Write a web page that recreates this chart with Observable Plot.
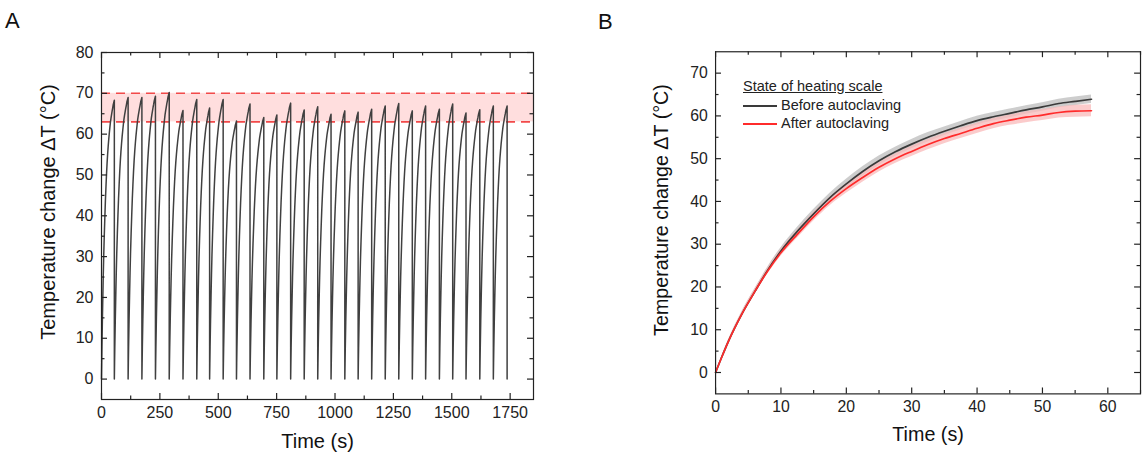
<!DOCTYPE html>
<html><head><meta charset="utf-8">
<script src="https://cdn.jsdelivr.net/npm/d3@7"></script>
<script src="https://cdn.jsdelivr.net/npm/@observablehq/plot@0.6"></script>
<style>
html,body{margin:0;padding:0;background:#fff;overflow:hidden;width:1142px;height:461px;}
#wrap{position:relative;width:1142px;height:461px;font-family:"Liberation Sans",Arial,sans-serif;overflow:hidden;}
.panel{position:absolute;top:0;}
.plbl{position:absolute;font-size:22px;color:#111;line-height:1;}
#legend{position:absolute;left:743px;top:79px;font-size:14.5px;color:#222;line-height:1;}
#legend .row{position:absolute;white-space:nowrap;}
#legend .sw{position:absolute;left:0;width:34px;height:0;}
</style></head><body>
<div id="wrap">
  <div class="plbl" style="left:5px;top:10px;">A</div>
  <div class="plbl" style="left:598px;top:11px;">B</div>
  <div id="panelA" class="panel" style="left:0px;"></div>
  <div id="panelB" class="panel" style="left:580px;"></div>
  <div id="legend"></div>
</div>
<script>
// ---------- Panel A data ----------
const cycleEnds = [55, 114, 173, 231, 290, 349, 408, 463, 521, 578, 636, 695, 751, 810, 868, 926, 983, 1042, 1099, 1157, 1215, 1273, 1331, 1388, 1447, 1504, 1561, 1620, 1678, 1737];
const cyclePeaks = [68.3, 69.0, 69.0, 69.3, 70.2, 65.8, 68.5, 66.4, 68.5, 63.2, 67.4, 64.1, 64.7, 67.6, 65.9, 66.7, 64.9, 65.7, 65.4, 66.1, 66.9, 67.5, 65.7, 66.9, 66.1, 67.4, 65.2, 66.0, 66.9, 66.9];
const targetRange = [63, 70];
const xTicksA = [0, 250, 500, 750, 1000, 1250, 1500, 1750];
const xMinorA = [125, 375, 625, 875, 1125, 1375, 1625];
const yTicksA = [0, 10, 20, 30, 40, 50, 60, 70, 80];
const yMinorA = [5, 15, 25, 35, 45, 55, 65, 75];

// ---------- Panel B data ----------
const timeB = [0, 1, 2, 4, 6, 8, 10, 12.5, 15, 17.5, 20, 22.5, 25, 27.5, 30, 32.5, 35, 37.5, 40, 42.5, 45, 47.5, 50, 52.5, 55, 57.5];
const beforeMean = [0, 3.8, 7.4, 13.6, 18.9, 24.0, 28.4, 33.0, 37.1, 40.9, 44.1, 47.0, 49.5, 51.6, 53.4, 55.0, 56.4, 57.7, 58.9, 59.8, 60.6, 61.4, 62.1, 62.9, 63.4, 63.9];
const afterMean  = [0, 3.8, 7.4, 13.6, 18.9, 23.8, 28.0, 32.3, 36.4, 40.0, 43.0, 45.6, 48.0, 50.0, 51.7, 53.3, 54.7, 55.9, 57.1, 58.2, 59.0, 59.7, 60.2, 60.8, 61.1, 61.2];
const beforeSD   = [0, 0.2, 0.3, 0.5, 0.6, 0.7, 0.8, 0.9, 1.0, 1.0, 1.1, 1.1, 1.1, 1.1, 1.1, 1.1, 1.0, 1.0, 1.0, 1.0, 1.0, 1.0, 1.0, 1.0, 1.0, 1.0];
const afterSD    = [0, 0.2, 0.3, 0.5, 0.6, 0.7, 0.8, 0.9, 1.0, 1.0, 1.1, 1.1, 1.1, 1.1, 1.2, 1.2, 1.2, 1.2, 1.2, 1.2, 1.2, 1.3, 1.3, 1.3, 1.4, 1.4];
const seriesNames = ["Before autoclaving", "After autoclaving"];
const legendTitle = "State of heating scale";
const xTicksB = [0, 10, 20, 30, 40, 50, 60];
const xMinorB = [5, 15, 25, 35, 45, 55, 65];
const yTicksB = [0, 10, 20, 30, 40, 50, 60, 70];
const yMinorB = [5, 15, 25, 35, 45, 55, 65];

const yTitle = "Temperature change \u0394T (\u00B0C)";
const xTitle = "Time (s)";

const FONT = "'Liberation Sans', Arial, sans-serif";
const lineColors = ["#3a3a3a", "#ff2b2b"];
const bandColors = ["#c4c4c4", "#f9b9b9"];

// Panel A line: each heating cycle follows the measured heating profile (panel B) up to its peak, then drops to 0
const profEnd = beforeMean[beforeMean.length - 1];
const tEnd = timeB[timeB.length - 1];
const lineA = [];
let start = 0;
cycleEnds.forEach((end, k) => {
  const dur = end - start;
  timeB.forEach((t, i) => lineA.push({t: start + t / tEnd * dur, v: cyclePeaks[k] * beforeMean[i] / profEnd}));
  lineA.push({t: end, v: 0});
  start = end;
});

// inward ticks on all four sides (lengths converted from pixels to data units)
function tickMarks(xd, yd, W, H, xMaj, xMin, yMaj, yMin) {
  const c = "#222", sw = 1.2;
  const ky = (yd[1] - yd[0]) / H, kx = (xd[1] - xd[0]) / W;
  const out = [];
  [[xMaj, 6], [xMin, 3.5]].forEach(([arr, len]) => {
    out.push(Plot.ruleX(arr, {x: d => d, y1: yd[0], y2: yd[0] + len * ky, stroke: c, strokeWidth: sw}));
    out.push(Plot.ruleX(arr, {x: d => d, y1: yd[1], y2: yd[1] - len * ky, stroke: c, strokeWidth: sw}));
  });
  [[yMaj, 6], [yMin, 3.5]].forEach(([arr, len]) => {
    out.push(Plot.ruleY(arr, {y: d => d, x1: xd[0], x2: xd[0] + len * kx, stroke: c, strokeWidth: sw}));
    out.push(Plot.ruleY(arr, {y: d => d, x1: xd[1], x2: xd[1] - len * kx, stroke: c, strokeWidth: sw}));
  });
  return out;
}

const fmt = d => String(d);

// ---------- Panel A ----------
{
  const width = 560, height = 461, mL = 101, mR = 27, mT = 52, mB = 62;
  const H = height - mT - mB, W = width - mL - mR;
  const xd = [0, 1850], yd = [-5, 80];
  const chart = Plot.plot({
    width, height, marginLeft: mL, marginRight: mR, marginTop: mT, marginBottom: mB,
    x: {domain: xd},
    y: {domain: yd},
    style: {fontFamily: FONT, fontSize: "16px", color: "#222", background: "transparent", overflow: "visible"},
    marks: [
      Plot.rect([targetRange], {y1: d => d[0], y2: d => d[1], fill: "#ffdede"}),
      Plot.ruleY(targetRange, {stroke: "#f24a4a", strokeWidth: 1.6, strokeDasharray: "9,6"}),
      Plot.line(lineA, {x: "t", y: "v", stroke: "#404040", strokeWidth: 1.5}),
      ...tickMarks(xd, yd, W, H, xTicksA, xMinorA, yTicksA, yMinorA),
      Plot.frame({stroke: "#222", strokeWidth: 1.2}),
      Plot.axisX(xTicksA, {tickSize: 0, tickPadding: 7, label: null, fontSize: 16, tickFormat: fmt}),
      Plot.axisY(yTicksA, {tickSize: 0, tickPadding: 8, label: null, fontSize: 16, tickFormat: fmt}),
      Plot.text([xTitle], {text: d => d, frameAnchor: "bottom", dy: 48, fontSize: 20, fill: "#111"}),
      Plot.text([yTitle], {text: d => d, frameAnchor: "left", textAnchor: "middle", rotate: -90, dx: -53, dy: -14, fontSize: 20, fill: "#111"})
    ]
  });
  document.getElementById("panelA").appendChild(chart);
}

// ---------- Panel B ----------
{
  const width = 570, height = 461, mL = 137, mR = 2, mT = 52, mB = 62;
  const H = height - mT - mB, W = width - mL - mR;
  const xd = [0, 65], yd = [-5, 75];
  const rows = timeB.map((t, i) => ({t, b: beforeMean[i], bs: beforeSD[i], a: afterMean[i], as: afterSD[i]}));
  const chart = Plot.plot({
    width, height, marginLeft: mL, marginRight: mR, marginTop: mT, marginBottom: mB,
    x: {domain: xd},
    y: {domain: yd},
    style: {fontFamily: FONT, fontSize: "16px", color: "#222", background: "transparent", overflow: "visible"},
    marks: [
      Plot.areaY(rows, {x: "t", y1: d => d.b - d.bs, y2: d => d.b + d.bs, fill: bandColors[0], fillOpacity: 0.85, curve: "monotone-x"}),
      Plot.areaY(rows, {x: "t", y1: d => d.a - d.as, y2: d => d.a + d.as, fill: bandColors[1], fillOpacity: 0.75, curve: "monotone-x"}),
      Plot.line(rows, {x: "t", y: "b", stroke: lineColors[0], strokeWidth: 1.7, curve: "monotone-x"}),
      Plot.line(rows, {x: "t", y: "a", stroke: lineColors[1], strokeWidth: 1.7, curve: "monotone-x"}),
      ...tickMarks(xd, yd, W, H, xTicksB, xMinorB, yTicksB, yMinorB),
      Plot.frame({stroke: "#222", strokeWidth: 1.2}),
      Plot.axisX(xTicksB, {tickSize: 0, tickPadding: 7, label: null, fontSize: 16, tickFormat: fmt}),
      Plot.axisY(yTicksB, {tickSize: 0, tickPadding: 8, label: null, fontSize: 16, tickFormat: fmt}),
      Plot.text([xTitle], {text: d => d, frameAnchor: "bottom", dy: 48, fontSize: 20, fill: "#111"}),
      Plot.text([yTitle], {text: d => d, frameAnchor: "left", textAnchor: "middle", rotate: -90, dx: -55, dy: -13, fontSize: 20, fill: "#111"})
    ]
  });
  document.getElementById("panelB").appendChild(chart);
}

// ---------- Legend (panel B) ----------
{
  const lg = document.getElementById("legend");
  const t = document.createElement("div");
  t.className = "row";
  t.style.left = "0px"; t.style.top = "0px"; t.style.textDecoration = "underline";
  t.textContent = legendTitle;
  lg.appendChild(t);
  seriesNames.forEach((name, i) => {
    const y = 19 + i * 18;
    const sw = document.createElement("div");
    sw.className = "sw";
    sw.style.top = (y + 7) + "px";
    sw.style.borderTop = "2px solid " + lineColors[i];
    lg.appendChild(sw);
    const r = document.createElement("div");
    r.className = "row";
    r.style.left = "38px"; r.style.top = y + "px";
    r.textContent = name;
    lg.appendChild(r);
  });
}
</script>
</body></html>
